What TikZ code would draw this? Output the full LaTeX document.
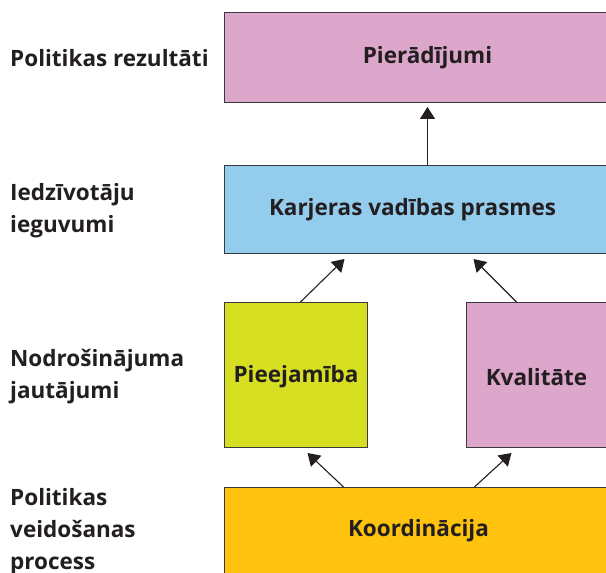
\documentclass[tikz,border=0pt]{standalone}
\usepackage{fontspec}
\setmainfont{Open Sans}
\usetikzlibrary{arrows.meta}

\definecolor{boxpink}{HTML}{DDA6CB}
\definecolor{boxblue}{HTML}{94CCEE}
\definecolor{boxgreen}{HTML}{D7DF23}
\definecolor{boxorange}{HTML}{FEC20F}
\definecolor{boxline}{HTML}{3A3A3C}
\definecolor{inktext}{HTML}{231F20}

\tikzset{
  levelbox/.style={draw=boxline,line width=1pt,inner sep=0pt,anchor=north west},
  boxtext/.style={font=\fontsize{22.5}{26}\selectfont\bfseries,text=inktext,inner sep=0pt},
  leveltext/.style={font=\fontsize{22.5}{32}\selectfont\bfseries,text=inktext,align=left,anchor=base west,inner sep=0pt},
  arr/.style={line width=1.1pt,draw=inktext,-{Triangle[width=15pt,length=12pt]}}
}

\begin{document}
\begin{tikzpicture}[x=1pt,y=1pt]
\useasboundingbox (0,0) rectangle (606,573);
\clip (0,0) rectangle (606,573);
% boxes
\node[levelbox,fill=boxpink,minimum width=406,minimum height=90] (evidence) at (224,561) {};
\node[levelbox,fill=boxblue,minimum width=406,minimum height=88] (skills) at (224,408) {};
\node[levelbox,fill=boxgreen,minimum width=143,minimum height=145] (access) at (224,271) {};
\node[levelbox,fill=boxpink,minimum width=143,minimum height=145] (quality) at (466,271) {};
\node[levelbox,fill=boxorange,minimum width=406,minimum height=100] (coord) at (224,86) {};
% box texts
\node[boxtext] (evidence-text) at (evidence.center) {Pierādījumi};
\node[boxtext] (skills-text) at ([xshift=-15]skills.center) {Karjeras vadības prasmes};
\node[boxtext] (access-text) at ([yshift=-2]access.center) {Pieejamība};
\node[boxtext] (quality-text) at ([xshift=-1.5,yshift=-2]quality.center) {Kvalitāte};
\node[boxtext] (coord-text) at ([xshift=-9,yshift=7]coord.center) {Koordinācija};
% level labels (base = last line)
\node[leveltext] (level-0) at (10,506) {Politikas rezultāti};
\node[leveltext] (level-1) at (10,340) {Iedzīvotāju\\ieguvumi};
\node[leveltext] (level-2) at (10,174) {Nodrošinājuma\\jautājumi};
\node[leveltext] (level-3) at (10,3) {Politikas\\veidošanas\\process};
% arrows
\draw[arr] (skills.north) -- ([yshift=-4]evidence.south);
\draw[arr] ([xshift=4.5]access.north) -- ([xshift=-83,yshift=-5]skills.south);
\draw[arr] ([xshift=-21.5]quality.north) -- ([xshift=46,yshift=-5]skills.south);
\draw[arr] ([xshift=-84]coord.north) -- ([xshift=11.5,yshift=-5]access.south);
\draw[arr] ([xshift=47]coord.north) -- ([xshift=-26.5,yshift=-5]quality.south);
\end{tikzpicture}
\end{document}
